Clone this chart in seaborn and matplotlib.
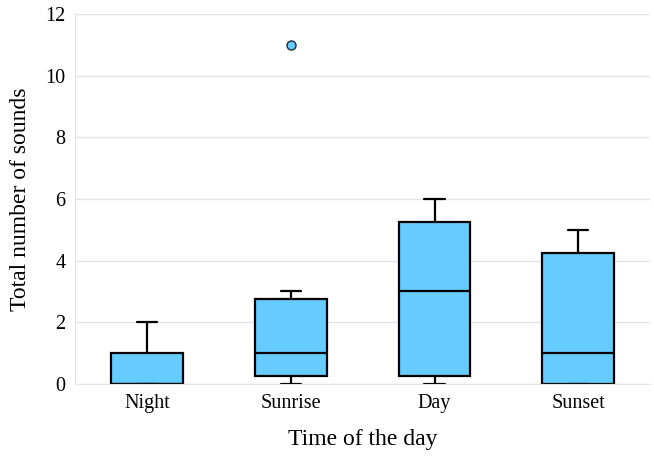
import pandas as pd
import seaborn as sns
import matplotlib.pyplot as plt

night = [0, 0, 0, 0, 0, 0, 1, 1, 1, 2]
sunrise = [0, 0, 0, 1, 1, 1, 2, 3, 3, 11]
day = [0, 0, 0, 1, 3, 3, 3, 6, 6, 6]
sunset = [0, 0, 0, 0, 1, 1, 2, 5, 5, 5]
periods = ['Night', 'Sunrise', 'Day', 'Sunset']

df = pd.DataFrame({
    'period': ['Night'] * len(night) + ['Sunrise'] * len(sunrise)
              + ['Day'] * len(day) + ['Sunset'] * len(sunset),
    'sounds': night + sunrise + day + sunset,
})

sns.set_style('white')
plt.rcParams['font.family'] = ['Liberation Serif', 'DejaVu Serif']
plt.rcParams['text.color'] = 'black'
plt.rcParams['axes.labelcolor'] = 'black'
plt.rcParams['xtick.color'] = 'black'
plt.rcParams['ytick.color'] = 'black'

fig = plt.figure(figsize=(6.54, 4.58), dpi=100)
ax = fig.add_axes([0.115, 0.162, 0.879, 0.807])

sns.boxplot(data=df, x='period', y='sounds', order=periods, ax=ax,
            color='#66ccff', width=0.5, linewidth=1.6, linecolor='black',
            saturation=1, capwidths=0.14,
            flierprops=dict(marker='o', markersize=6.5, markerfacecolor='#66ccff',
                            markeredgecolor='#1a2a3a', markeredgewidth=1))

ax.set_ylim(0, 12)
ax.set_xlim(-0.5, 3.5)
ax.set_yticks(range(0, 13, 2))
ax.yaxis.grid(True, color='#e3e3e3', linewidth=1)
ax.set_axisbelow(True)
for side in ['top', 'right']:
    ax.spines[side].set_visible(False)
for side in ['left', 'bottom']:
    ax.spines[side].set_color('#e3e3e3')
ax.tick_params(axis='both', length=0, labelsize=14.5, pad=7)
ax.set_xlabel('Time of the day', fontsize=17, labelpad=12)
ax.set_ylabel('Total number of sounds', fontsize=17, labelpad=10)

fig.savefig('out.png', dpi=100)
